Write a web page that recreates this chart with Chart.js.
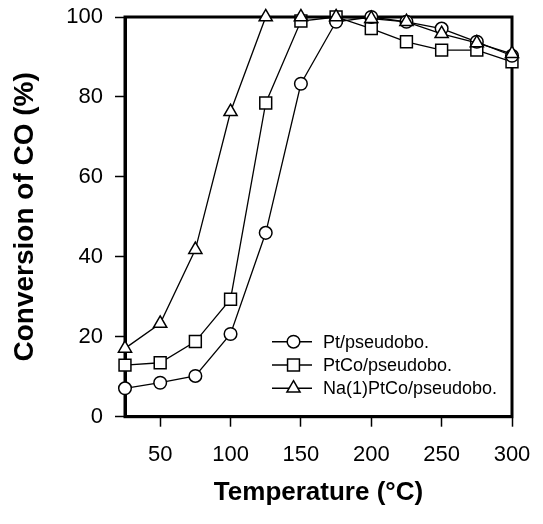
<!DOCTYPE html>
<html>
<head>
<meta charset="utf-8">
<script src="https://cdn.jsdelivr.net/npm/chart.js@4/dist/chart.umd.min.js"></script>
<style>
  html, body { margin: 0; padding: 0; background: #fff; }
  #wrap { width: 543px; height: 524px; }
</style>
</head>
<body>
<div id="wrap"><canvas id="c" width="543" height="524"></canvas></div>
<script>
// ---- data ----
const temperatures = [25, 50, 75, 100, 125, 150, 175, 200, 225, 250, 275, 300];
const ptValues     = [7.1, 8.5, 10.2, 20.7, 46.0, 83.3, 98.8, 100, 98.8, 97.1, 93.8, 90.3];
const ptcoValues   = [12.9, 13.5, 18.8, 29.4, 78.5, 99.0, 100, 97.1, 93.8, 91.7, 91.7, 88.8];
const naValues     = [17.1, 23.3, 41.8, 76.3, 100, 100, 100, 99.6, 98.8, 95.8, 93.5, 90.8];
const seriesNames  = ['Pt/pseudobo.', 'PtCo/pseudobo.', 'Na(1)PtCo/pseudobo.'];
const xTickValues  = [50, 100, 150, 200, 250, 300];
const yTickValues  = [0, 20, 40, 60, 80, 100];
const xTitle = 'Temperature (°C)';
const yTitle = 'Conversion of CO (%)';

const FONT = "Arial, 'Liberation Sans', sans-serif";

function toPoints(vals) { return temperatures.map((t, i) => ({ x: t, y: vals[i] })); }

const styles = [
  { pointStyle: 'circle',   radius: 6.3, order: 1 },
  { pointStyle: 'rect',     radius: 8.4, order: 2 },
  { pointStyle: 'triangle', radius: 7.6, order: 0 }
];
const allValues = [ptValues, ptcoValues, naValues];

const datasets = allValues.map((vals, i) => ({
  label: seriesNames[i],
  data: toPoints(vals),
  borderColor: '#000',
  borderWidth: 1.3,
  pointStyle: styles[i].pointStyle,
  pointRadius: styles[i].radius,
  pointHoverRadius: styles[i].radius,
  pointBackgroundColor: '#fff',
  pointBorderColor: '#000',
  pointBorderWidth: 1.5,
  tension: 0,
  fill: false,
  clip: false,
  order: styles[i].order
}));

const boxPlugin = {
  id: 'box',
  beforeDatasetsDraw(chart) {
    const a = chart.chartArea, ctx = chart.ctx;
    ctx.save();
    ctx.strokeStyle = '#000';
    ctx.lineWidth = 3;
    ctx.strokeRect(a.left, a.top, a.right - a.left, a.bottom - a.top);
    ctx.restore();
  }
};

function drawMarker(ctx, style, r, x, y) {
  ctx.save();
  ctx.fillStyle = '#fff';
  ctx.strokeStyle = '#000';
  ctx.lineWidth = 1.5;
  if (Chart.helpers && Chart.helpers.drawPoint) {
    Chart.helpers.drawPoint(ctx, { pointStyle: style, radius: r, borderWidth: 1.5, rotation: 0 }, x, y);
  }
  ctx.restore();
}

const legendPlugin = {
  id: 'customLegend',
  afterDraw(chart) {
    const ctx = chart.ctx;
    const rows = [341.7, 365, 388.3];
    seriesNames.forEach((name, i) => {
      const y = rows[i];
      ctx.save();
      ctx.strokeStyle = '#000';
      ctx.lineWidth = 1.5;
      ctx.beginPath();
      ctx.moveTo(272, y);
      ctx.lineTo(312, y);
      ctx.stroke();
      ctx.restore();
      drawMarker(ctx, styles[i].pointStyle, styles[i].radius, 293.5, y);
      ctx.save();
      ctx.fillStyle = '#000';
      ctx.font = '18px ' + FONT;
      ctx.textBaseline = 'middle';
      ctx.textAlign = 'left';
      ctx.fillText(name, 323, y + 1);
      ctx.restore();
    });
  }
};

new Chart(document.getElementById('c'), {
  type: 'line',
  data: { datasets },
  options: {
    responsive: false,
    animation: false,
    devicePixelRatio: 1,
    layout: { padding: { left: 8, right: 31, top: 17, bottom: 16 } },
    plugins: { legend: { display: false }, tooltip: { enabled: false } },
    scales: {
      x: {
        type: 'linear',
        min: 25, max: 300,
        afterBuildTicks(scale) { scale.ticks = xTickValues.map(v => ({ value: v })); },
        afterFit(scale) {
          scale.height = 524 - 16 - 416.7;
          scale.paddingLeft = 0; scale.paddingRight = 0;
        },
        ticks: { color: '#000', font: { family: FONT, size: 22 }, padding: 15, maxRotation: 0, autoSkip: false },
        grid: { display: true, drawOnChartArea: false, drawTicks: true, tickLength: 10, tickWidth: 1.5, tickColor: '#000' },
        border: { display: true, width: 3, color: '#000' },
        title: { display: true, text: xTitle, color: '#000', font: { family: FONT, size: 26, weight: 'bold' }, padding: { top: 0, bottom: 0 } }
      },
      y: {
        type: 'linear',
        min: 0, max: 100,
        afterBuildTicks(scale) { scale.ticks = yTickValues.map(v => ({ value: v })); },
        afterFit(scale) {
          scale.width = 125 - 8;
          scale.paddingTop = 0; scale.paddingBottom = 0;
        },
        ticks: { color: '#000', font: { family: FONT, size: 22 }, padding: 12 },
        grid: { display: true, drawOnChartArea: false, drawTicks: true, tickLength: 10, tickWidth: 1.5, tickColor: '#000' },
        border: { display: true, width: 3, color: '#000' },
        title: { display: true, text: yTitle, color: '#000', font: { family: FONT, size: 28, weight: 'bold' }, padding: { top: 0, bottom: 0 } }
      }
    }
  },
  plugins: [boxPlugin, legendPlugin]
});
</script>
</body>
</html>
